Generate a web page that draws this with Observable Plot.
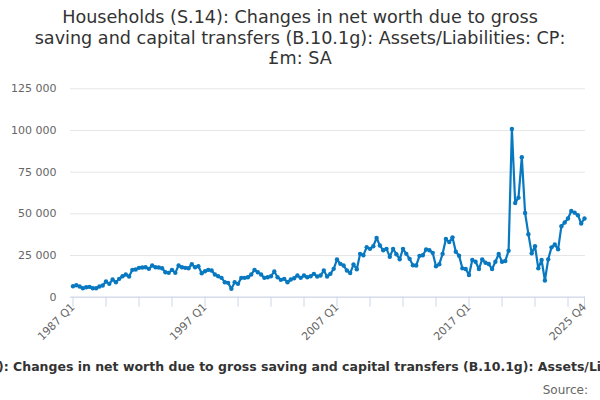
<!DOCTYPE html>
<html>
<head>
<meta charset="utf-8">
<script src="https://cdn.jsdelivr.net/npm/d3@7"></script>
<script src="https://cdn.jsdelivr.net/npm/@observablehq/plot@0.6"></script>
<style>
  html, body { margin: 0; padding: 0; background: #fff; }
  body { width: 600px; height: 400px; position: relative; overflow: hidden; font-family: "DejaVu Sans", sans-serif; }
  #title { position: absolute; left: 0; top: 7px; width: 600px; text-align: center; font-size: 17.6px; line-height: 20.5px; color: #333; white-space: nowrap; }
  #chart { position: absolute; left: 0; top: 78px; }
  #caption { position: absolute; top: 360px; font-size: 12.5px; line-height: 14px; font-weight: bold; color: #333; white-space: nowrap; }
  #source { position: absolute; top: 383px; right: 12px; font-size: 12px; line-height: 14px; color: #666; white-space: nowrap; }
</style>
</head>
<body>
<div id="title">Households (S.14): Changes in net worth due to gross<br>saving and capital transfers (B.10.1g): Assets/Liabilities: CP:<br>£m: SA</div>
<div id="chart"></div>
<div id="caption">Households (S.14): Changes in net worth due to gross saving and capital transfers (B.10.1g): Assets/Liabilities: CP: £m: SA</div>
<div id="source">Source:</div>
<script>
const firstYear = 1987;
const values = [
  6600, 7200, 6400, 5400, 6000, 6200, 5400, 5400, 6400, 7000,
  9400, 8000, 10600, 9000, 11000, 12600, 13600, 12400, 16400, 16600,
  17600, 17800, 18000, 17000, 19000, 18000, 17800, 17400, 15000, 14600,
  16400, 14600, 19000, 18000, 17600, 17400, 19800, 18000, 18600, 14400,
  15600, 16400, 16000, 13600, 12600, 11600, 9000, 8600, 5000, 9000,
  8000, 11600, 11600, 12000, 13600, 16400, 15000, 13600, 11600, 12000,
  12600, 15400, 12000, 10400, 11000, 9000, 10600, 11400, 13000, 11600,
  13000, 12000, 12600, 14000, 12400, 13000, 16000, 12400, 14000, 17000,
  22600, 20000, 19000, 16000, 14500, 19600, 16800, 26000, 25200, 30000,
  29000, 30600, 35500, 31000, 28200, 29000, 24200, 29000, 25800, 22800,
  29000, 26000, 23000, 19200, 19000, 24800, 25200, 28600, 28200, 26600,
  18600, 19800, 26000, 34900, 33100, 35900, 27300, 24900, 17300, 16900,
  13300, 22300, 21300, 16900, 22700, 20700, 19900, 16900, 21300, 25900,
  21300, 21700, 27900, 100900, 56500, 59700, 84000, 50500, 37800, 26300,
  30600, 17300, 22300, 10000, 22700, 29900, 31600, 28700, 42600, 44800,
  47200, 51700, 50700, 49200, 44200, 47200
];
const quarters = values.map((_, i) => `${firstYear + Math.floor(i / 4)} Q${(i % 4) + 1}`);
const tickIndexes = [0, 10, 20, 30, 40, 50, 60, 70, 80, 90, 100, 110, 120, 130, 140, 150, 155];
const labelIndexes = [0, 40, 80, 120, 155];
const yTicks = [0, 25000, 50000, 75000, 100000, 125000];

const data = values.map((v, i) => ({i, v, q: quarters[i]}));
const fmt = v => d3.format(",")(v).replace(/,/g, " ");
const blue = "#0878c0";

const plot = Plot.plot({
  width: 600,
  height: 282,
  marginLeft: 70,
  marginRight: 15,
  marginTop: 10.3,
  marginBottom: 63.3,
  style: {fontFamily: "DejaVu Sans, sans-serif", fontSize: "11px", color: "#666", background: "#fff"},
  x: {type: "linear", domain: [0, values.length - 1], insetLeft: 2.5, insetRight: 1},
  y: {domain: [0, 125000]},
  marks: [
    Plot.gridY(yTicks, {stroke: "#e6e6e6", strokeOpacity: 1, strokeWidth: 1}),
    Plot.axisY(yTicks, {tickSize: 0, tickPadding: 14, tickFormat: fmt, fill: "#666", fontSize: 11, label: null}),
    Plot.ruleY([0], {stroke: "#ccd6eb", strokeWidth: 1}),
    Plot.axisX(tickIndexes, {tickSize: 10, stroke: "#ccd6eb", strokeOpacity: 1, tickFormat: () => "", label: null}),
    Plot.axisX(labelIndexes, {tickSize: 0, tickPadding: 8, tickRotate: -45, tickFormat: i => quarters[i], fill: "#666", fontSize: 11, label: null}),
    Plot.line(data, {x: "i", y: "v", stroke: blue, strokeWidth: 2.2}),
    Plot.dot(data, {x: "i", y: "v", r: 2.2, fill: blue, stroke: "none"})
  ]
});
document.getElementById("chart").appendChild(plot);

// position the overflowing caption so that its visible part starts at "): "
const cap = document.getElementById("caption");
const ctx = document.createElement("canvas").getContext("2d");
ctx.font = "bold 12.5px 'DejaVu Sans'";
const cut = ctx.measureText("Households (S.14").width;
cap.style.left = (-cut - 2) + "px";
</script>
</body>
</html>
